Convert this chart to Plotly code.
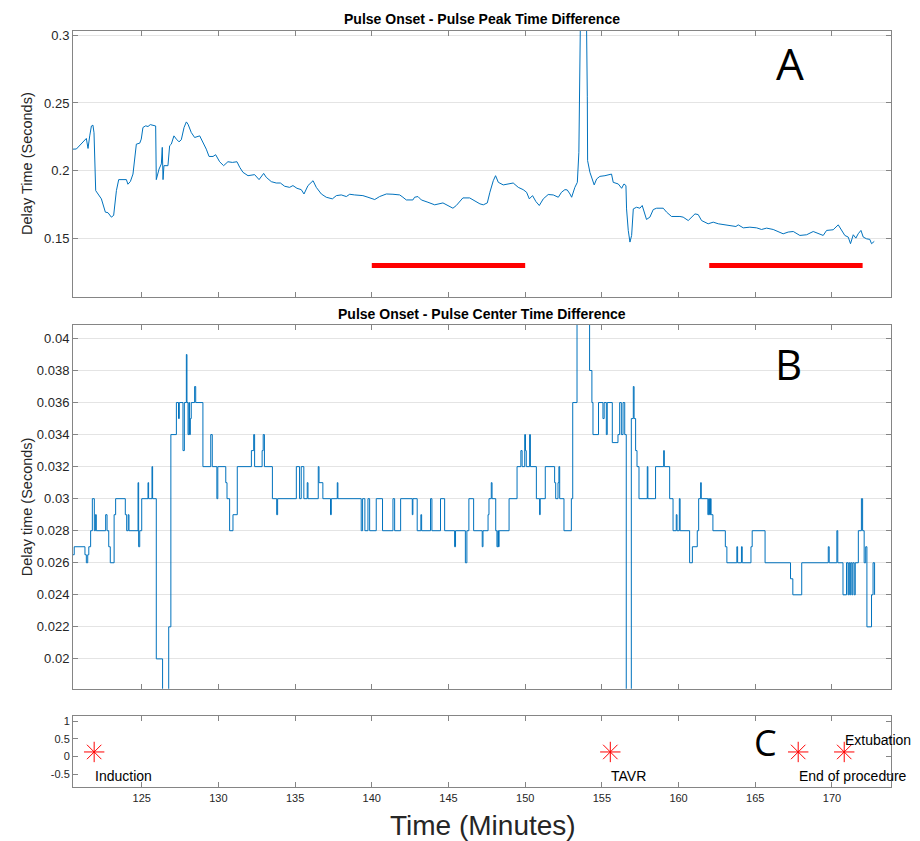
import plotly.graph_objects as go

# ---- Panel A: pulse onset to pulse peak delay (seconds) ----
peak_t = [
    120.52, 120.74, 121.39, 121.50, 121.61, 121.72, 121.82, 121.89, 122.00, 122.15,
    122.37, 122.63, 122.80, 123.02, 123.17, 123.35, 123.50, 124.00, 124.10, 124.26,
    124.43, 124.65, 124.87, 124.97, 125.08, 125.26, 125.41, 125.56, 125.91, 125.95,
    126.13, 126.28, 126.34, 126.39, 126.45, 126.71, 126.82, 126.93, 127.10, 127.26,
    127.43, 127.58, 127.76, 127.91, 128.02, 128.23, 128.45, 128.78, 129.00, 129.21,
    129.39, 129.65, 129.82, 130.08, 130.34, 130.62, 130.91, 131.21, 131.39, 131.60,
    131.93, 132.36, 132.65, 132.95, 133.12, 133.45, 133.77, 134.04, 134.32, 134.64,
    134.86, 135.12, 135.40, 135.58, 135.84, 136.17, 136.38, 136.71, 137.03, 137.43,
    137.69, 138.01, 138.34, 138.56, 138.88, 139.42, 139.75, 140.19, 140.51, 140.95,
    141.38, 141.82, 142.03, 142.25, 142.68, 142.79, 143.01, 143.23, 143.66, 144.10,
    144.64, 145.29, 145.51, 145.94, 146.38, 146.81, 147.05, 147.27, 147.53, 147.70,
    147.92, 148.07, 148.25, 148.57, 148.90, 149.22, 149.55, 149.87, 150.09, 150.27,
    150.48, 150.70, 150.92, 151.18, 151.50, 151.83, 152.16, 152.37, 152.59, 152.74,
    152.92, 153.03, 153.24, 153.40, 153.50, 153.56, 153.62, 153.80, 153.98, 154.05,
    154.07, 154.22, 154.44, 154.50, 154.66, 154.87, 155.20, 155.63, 155.74, 156.07,
    156.29, 156.44, 156.57, 156.61, 156.72, 156.83, 156.94, 157.05, 157.26, 157.48,
    157.63, 157.81, 157.91, 158.13, 158.35, 158.57, 159.00, 159.22, 159.54, 160.09,
    160.30, 160.63, 160.85, 161.07, 161.28, 161.50, 161.93, 162.26, 162.59, 163.02,
    163.35, 163.74, 163.89, 164.22, 164.65, 165.09, 165.41, 165.74, 166.17, 166.50,
    166.82, 167.15, 167.48, 167.91, 168.35, 168.78, 169.10, 169.43, 169.65, 170.08,
    170.41, 170.63, 170.84, 171.06, 171.21, 171.39, 171.56, 171.71, 171.89, 172.04,
    172.26, 172.47, 172.58, 172.76,
]
peak_v = [
    0.2159, 0.2160, 0.2238, 0.2164, 0.2257, 0.2330, 0.2336, 0.2280, 0.1853, 0.1828,
    0.1792, 0.1694, 0.1690, 0.1657, 0.1670, 0.1853, 0.1934, 0.1934, 0.1900, 0.1920,
    0.1975, 0.2196, 0.2203, 0.2233, 0.2319, 0.2331, 0.2326, 0.2340, 0.2330, 0.1934,
    0.2012, 0.2050, 0.2172, 0.1934, 0.2037, 0.2037, 0.2184, 0.2196, 0.2257, 0.2233,
    0.2213, 0.2228, 0.2319, 0.2360, 0.2343, 0.2282, 0.2245, 0.2257, 0.2208, 0.2159,
    0.2105, 0.2105, 0.2118, 0.2066, 0.2037, 0.2066, 0.2061, 0.2066, 0.2025, 0.1988,
    0.1963, 0.1971, 0.1934, 0.1980, 0.1951, 0.1919, 0.1909, 0.1909, 0.1885, 0.1877,
    0.1890, 0.1870, 0.1860, 0.1828, 0.1890, 0.1926, 0.1877, 0.1828, 0.1804, 0.1792,
    0.1816, 0.1821, 0.1809, 0.1826, 0.1821, 0.1816, 0.1804, 0.1787, 0.1809, 0.1828,
    0.1826, 0.1821, 0.1804, 0.1784, 0.1784, 0.1804, 0.1809, 0.1784, 0.1767, 0.1748,
    0.1762, 0.1723, 0.1743, 0.1799, 0.1799, 0.1767, 0.1755, 0.1748, 0.1762, 0.1841,
    0.1926, 0.1963, 0.1914, 0.1895, 0.1902, 0.1909, 0.1877, 0.1860, 0.1841, 0.1792,
    0.1816, 0.1772, 0.1743, 0.1792, 0.1824, 0.1821, 0.1804, 0.1841, 0.1860, 0.1858,
    0.1828, 0.1804, 0.1877, 0.1914, 0.2135, 0.2600, 0.3300, 0.3400, 0.3300, 0.2550,
    0.2074, 0.1988, 0.1926, 0.1895, 0.1939, 0.1958, 0.1963, 0.1975, 0.1914, 0.1902,
    0.1870, 0.1902, 0.1890, 0.1718, 0.1559, 0.1473, 0.1522, 0.1718, 0.1730, 0.1723,
    0.1743, 0.1681, 0.1640, 0.1657, 0.1713, 0.1723, 0.1723, 0.1694, 0.1662, 0.1662,
    0.1657, 0.1632, 0.1657, 0.1681, 0.1676, 0.1632, 0.1608, 0.1620, 0.1608, 0.1600,
    0.1596, 0.1588, 0.1600, 0.1578, 0.1583, 0.1578, 0.1566, 0.1576, 0.1566, 0.1547,
    0.1534, 0.1547, 0.1551, 0.1522, 0.1527, 0.1551, 0.1534, 0.1522, 0.1559, 0.1564,
    0.1600, 0.1559, 0.1522, 0.1510, 0.1461, 0.1527, 0.1502, 0.1534, 0.1559, 0.1510,
    0.1497, 0.1493, 0.1461, 0.1478,
]

# Highlighted intervals drawn under the panel A trace
bar_level = 0.13
bar_starts = [140, 162]
bar_ends = [150, 172]

# ---- Panel B: pulse onset to pulse center delay (seconds), stepwise ----
center_t = [
    120.52, 120.60, 121.30, 121.39, 121.48, 121.55, 121.67, 121.78, 121.91, 121.98,
    122.04, 122.65, 122.74, 122.85, 122.95, 123.20, 123.30, 123.93, 124.02, 124.12,
    124.17, 124.76, 124.80, 124.87, 125.00, 125.41, 125.45, 125.67, 125.71, 125.95,
    126.36, 126.76, 126.90, 127.26, 127.40, 127.45, 127.69, 127.78, 127.91, 127.95,
    128.02, 128.08, 128.12, 128.17, 128.23, 128.45, 128.52, 128.99, 129.50, 129.60,
    129.90, 129.96, 130.48, 130.56, 130.73, 130.95, 131.23, 132.15, 132.30, 132.36,
    132.85, 132.92, 133.00, 133.52, 133.80, 133.86,
    135.08, 135.29, 135.40, 135.57, 135.79, 135.84, 136.51, 136.56, 136.81, 137.31,
    137.36, 137.75, 137.79, 139.31, 139.40, 139.55, 139.75, 139.86, 140.29, 140.70,
    141.38, 141.49, 141.88, 142.64, 142.68, 142.96, 143.20, 143.25, 143.83, 143.92,
    144.48, 144.75, 145.40, 145.46, 146.10, 146.20, 146.33, 146.64, 147.20, 147.25,
    147.58, 147.64, 147.79, 147.84, 148.08, 148.16, 148.22, 148.26, 148.30, 148.95,
    149.47, 149.72, 149.80, 149.97, 150.02, 150.07, 150.29, 150.34, 150.73, 150.94,
    150.98, 151.31, 151.92, 151.99, 152.14, 152.20, 152.25, 152.53, 153.01, 153.10,
    153.38, 154.20, 154.35, 154.42, 154.78, 155.07, 155.15, 155.29, 155.35, 155.68,
    156.05, 156.16, 156.27, 156.38, 156.49, 156.59, 156.92, 157.05, 157.10, 157.20,
    157.29, 157.42, 157.96, 158.00, 158.50, 159.03, 159.07, 159.42, 159.64, 159.85,
    159.90, 160.05, 160.10,
    160.72, 160.90, 161.22, 161.31, 161.44, 161.48, 161.91, 161.96, 162.02, 162.08,
    162.12, 162.24, 163.05, 163.15, 163.80, 163.85, 164.10, 164.15, 164.72, 164.80,
    165.64, 167.30, 167.45, 168.03, 169.76, 169.82, 170.32, 170.38, 170.72, 170.95,
    171.05, 171.10, 171.16, 171.22, 171.30, 171.36, 171.45, 171.52, 171.72, 171.92,
    172.00, 172.10, 172.20, 172.28, 172.58, 172.68, 172.78,
]
center_v = [
    0.0265, 0.027, 0.0265, 0.026, 0.0265, 0.027, 0.028, 0.030, 0.028, 0.029,
    0.028, 0.029, 0.028, 0.027, 0.026, 0.029, 0.030, 0.029, 0.028, 0.029,
    0.028, 0.031, 0.027, 0.028, 0.030, 0.031, 0.030, 0.032, 0.030, 0.020,
    0.016, 0.022, 0.034, 0.036, 0.035, 0.036, 0.033, 0.036, 0.039, 0.036,
    0.034, 0.036, 0.034, 0.035, 0.036, 0.037, 0.036, 0.032, 0.034, 0.032,
    0.030, 0.032, 0.031, 0.030, 0.028, 0.029, 0.032, 0.033, 0.034, 0.032,
    0.033, 0.034, 0.032, 0.030, 0.029, 0.030,
    0.032, 0.030, 0.032, 0.030, 0.031, 0.030, 0.032, 0.031, 0.030, 0.029,
    0.030, 0.031, 0.030, 0.028, 0.030, 0.028, 0.030, 0.028, 0.030, 0.028,
    0.030, 0.028, 0.030, 0.029, 0.030, 0.028, 0.029, 0.028, 0.030, 0.028,
    0.030, 0.028, 0.027, 0.028, 0.026, 0.028, 0.030, 0.028, 0.027, 0.028,
    0.029, 0.030, 0.031, 0.030, 0.028, 0.027, 0.028, 0.027, 0.028, 0.030,
    0.032, 0.033, 0.032, 0.034, 0.033, 0.032, 0.034, 0.032, 0.030, 0.029,
    0.030, 0.032, 0.031, 0.030, 0.031, 0.032, 0.030, 0.028, 0.030, 0.036,
    0.045, 0.038, 0.036, 0.034, 0.036, 0.035, 0.036, 0.034, 0.036, 0.0335,
    0.034, 0.036, 0.034, 0.036, 0.034, 0.012, 0.035, 0.037, 0.035, 0.033,
    0.032, 0.030, 0.032, 0.030, 0.032, 0.033, 0.032, 0.030, 0.028, 0.029,
    0.028, 0.030, 0.028,
    0.026, 0.027, 0.028, 0.030, 0.031, 0.030, 0.029, 0.030, 0.029, 0.030,
    0.029, 0.028, 0.027, 0.026, 0.027, 0.026, 0.027, 0.026, 0.027, 0.028,
    0.026, 0.025, 0.024, 0.026, 0.027, 0.026, 0.028, 0.026, 0.024, 0.026,
    0.024, 0.026, 0.024, 0.026, 0.024, 0.026, 0.024, 0.026, 0.028, 0.030,
    0.028, 0.026, 0.027, 0.022, 0.024, 0.026, 0.024,
]

# ---- Panel C: procedure events ----
event_t = [121.9, 155.55, 167.8, 170.8]
event_y = [0.13, 0.13, 0.13, 0.13]
event_names = ["Induction", "TAVR", "End of procedure", "Extubation"]
event_label_y = [-0.55, -0.55, -0.55, 0.46]

# ---- Axis ticks ----
x_range = [120.52, 173.85]
x_ticks = [125, 130, 135, 140, 145, 150, 155, 160, 165, 170]
a_ticks = [0.15, 0.2, 0.25, 0.3]
a_labels = ["0.15", "0.2", "0.25", "0.3"]
b_ticks = [0.02, 0.022, 0.024, 0.026, 0.028, 0.03, 0.032, 0.034, 0.036, 0.038, 0.04]
b_labels = ["0.02", "0.022", "0.024", "0.026", "0.028", "0.03", "0.032", "0.034",
            "0.036", "0.038", "0.04"]
c_ticks = [-0.5, 0, 0.5, 1]
c_labels = ["-0.5", "0", "0.5", "1"]

W, H = 920, 841
BLUE = "#0072BD"
AXIS = "#858585"
GRID = "#e4e4e4"
TXT = "#262626"
FONT = "Liberation Sans, Arial, sans-serif"


def px_x(p):
    return p / W


def px_y(p):
    return 1 - p / H


fig = go.Figure()

fig.add_trace(go.Scatter(x=peak_t, y=peak_v, mode="lines",
                         line=dict(color=BLUE, width=1), xaxis="x", yaxis="y",
                         showlegend=False))
for s, e in zip(bar_starts, bar_ends):
    fig.add_trace(go.Scatter(x=[s, e], y=[bar_level, bar_level], mode="lines",
                             line=dict(color="#ff0000", width=5),
                             xaxis="x", yaxis="y", showlegend=False))

fig.add_trace(go.Scatter(x=center_t, y=center_v, mode="lines",
                         line=dict(color=BLUE, width=1, shape="hv"),
                         xaxis="x2", yaxis="y2", showlegend=False))

fig.add_trace(go.Scatter(x=event_t, y=event_y, mode="markers",
                         marker=dict(symbol="asterisk-open", size=17,
                                     color="#ff0000",
                                     line=dict(color="#ff0000", width=1)),
                         xaxis="x3", yaxis="y3", showlegend=False))

x_dom = [px_x(73), px_x(891)]
common_x = dict(range=x_range, tickvals=x_ticks, ticks="inside", ticklen=5,
                tickcolor=AXIS, showline=True, linecolor=AXIS, linewidth=1,
                mirror="allticks", showgrid=False, zeroline=False,
                domain=x_dom, tickfont=dict(family=FONT, size=11, color=TXT))
common_y = dict(ticks="inside", ticklen=5, tickcolor=AXIS, showline=True,
                linecolor=AXIS, linewidth=1, mirror="allticks", zeroline=False,
                tickfont=dict(family=FONT, size=13, color=TXT))

fig.update_layout(
    width=W, height=H, autosize=False,
    margin=dict(l=0, r=0, t=0, b=0),
    paper_bgcolor="white", plot_bgcolor="white",
    xaxis=dict(common_x, anchor="y", showticklabels=False),
    yaxis=dict(common_y, anchor="x", range=[0.1068, 0.3034],
               domain=[px_y(295), px_y(27.7)], tickvals=a_ticks,
               ticktext=a_labels, showgrid=True, gridcolor=GRID, gridwidth=1),
    xaxis2=dict(common_x, anchor="y2", showticklabels=False),
    yaxis2=dict(common_y, anchor="x2", range=[0.01813, 0.04085],
                domain=[px_y(688.3), px_y(323)], tickvals=b_ticks,
                ticktext=b_labels, showgrid=True, gridcolor=GRID, gridwidth=1),
    xaxis3=dict(common_x, anchor="y3", showticklabels=True),
    yaxis3=dict(common_y, anchor="x3", range=[-0.88, 1.14],
                domain=[px_y(787.3), px_y(716)], tickvals=c_ticks,
                ticktext=c_labels, showgrid=False,
                tickfont=dict(family=FONT, size=11, color=TXT)),
)

ann = []
# Panel titles
ann.append(dict(text="<b>Pulse Onset - Pulse Peak Time Difference</b>",
                x=px_x(482), y=px_y(16.5), xref="paper", yref="paper",
                showarrow=False, xanchor="center", yanchor="middle",
                font=dict(family=FONT, size=14, color="black")))
ann.append(dict(text="<b>Pulse Onset - Pulse Center Time Difference</b>",
                x=px_x(482), y=px_y(312), xref="paper", yref="paper",
                showarrow=False, xanchor="center", yanchor="middle",
                font=dict(family=FONT, size=14, color="black")))
# Y-axis titles
ann.append(dict(text="Delay Time (Seconds)", x=px_x(27), y=px_y(161.5),
                xref="paper", yref="paper", showarrow=False, textangle=-90,
                xanchor="center", yanchor="middle",
                font=dict(family=FONT, size=14.5, color=TXT)))
ann.append(dict(text="Delay time (Seconds)", x=px_x(27), y=px_y(506),
                xref="paper", yref="paper", showarrow=False, textangle=-90,
                xanchor="center", yanchor="middle",
                font=dict(family=FONT, size=14.5, color=TXT)))
# X-axis title
ann.append(dict(text="Time (Minutes)", x=px_x(482.5), y=px_y(825),
                xref="paper", yref="paper", showarrow=False,
                xanchor="center", yanchor="middle",
                font=dict(family=FONT, size=28, color=TXT)))
# Panel letters
for letter, lx, ly, ls in [("A", 790, 60, 44), ("B", 788, 362, 42), ("C", 765, 742, 36)]:
    ann.append(dict(text=letter, x=px_x(lx), y=px_y(ly), xref="paper", yref="paper",
                    showarrow=False, xanchor="center", yanchor="middle",
                    font=dict(family="Open Sans, sans-serif", size=ls, color="black")))
# Event labels
for t, name, ly in zip(event_t, event_names, event_label_y):
    ann.append(dict(text=name, x=t, y=ly, xref="x3", yref="y3", showarrow=False,
                    xanchor="left", yanchor="middle", xshift=-1,
                    font=dict(family=FONT, size=14, color="black")))

fig.update_layout(annotations=ann)

fig.write_html("out.html")
